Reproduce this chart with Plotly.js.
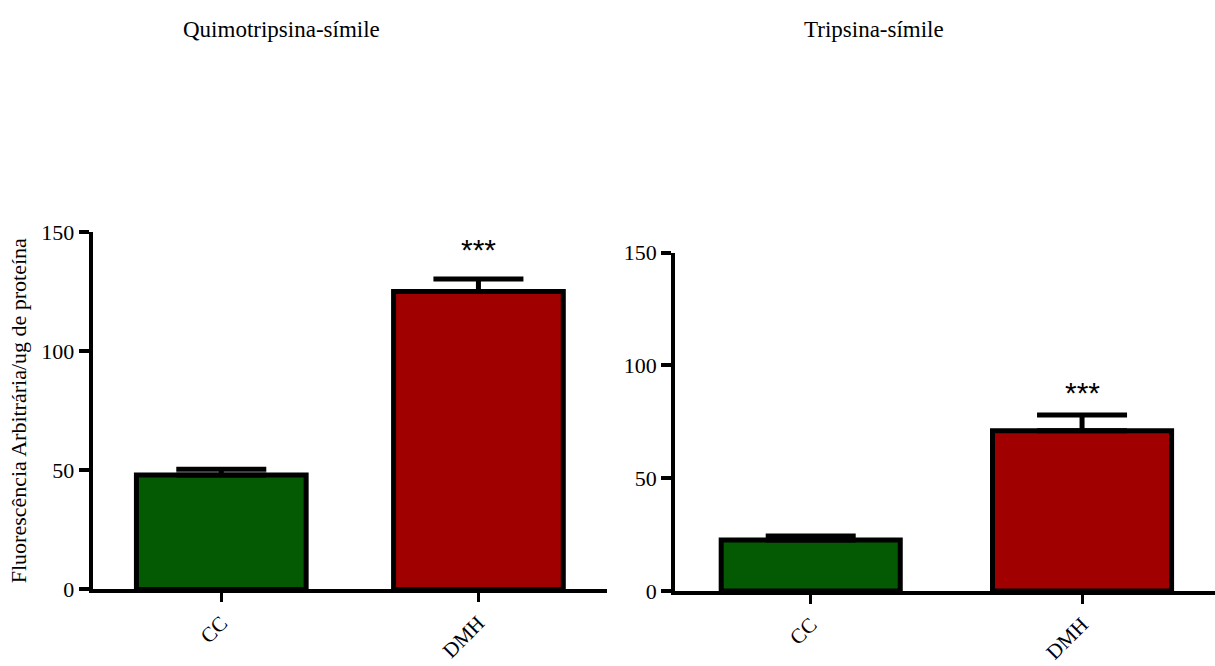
<!DOCTYPE html>
<html>
<head>
<meta charset="utf-8">
<script src="https://cdn.plot.ly/plotly-3.0.1.min.js"></script>
<style>html,body{margin:0;padding:0;background:#fff;}#chart{width:1215px;height:666px;}</style>
</head>
<body>
<div id="chart"></div>
<script>
// ---- data ----
const categories = ["CC", "DMH"];
const quimoMeans = [48, 125];
const quimoSem = [2.4, 5.3];
const tripMeans = [22.6, 71];
const tripSem = [1.8, 7];
const panelTitles = ["Quimotripsina-símile", "Tripsina-símile"];
const yTitle = "Fluorescência Arbitrária/ug de proteína";
const yTicks = [0, 50, 100, 150];
const sigLabel = "***";
const sigIndex = 1;

const barColors = ["#035a03", "#a00000"];
const serif = "Liberation Serif, Times New Roman, serif";

function barTrace(means, sem, xa, ya) {
  return {
    type: "bar",
    x: categories,
    y: means,
    xaxis: xa, yaxis: ya,
    width: 0.66,
    marker: { color: barColors, line: { color: "#000", width: 5 } },
    error_y: { type: "data", symmetric: false, array: sem, arrayminus: sem.map(() => 0),
               color: "#000", thickness: 5, width: 45 },
    hoverinfo: "none",
    showlegend: false
  };
}

const data = [
  barTrace(quimoMeans, quimoSem, "x", "y"),
  barTrace(tripMeans, tripSem, "x2", "y2")
];

function xAxis(domain, range, anchor) {
  return {
    domain: domain, range: range, anchor: anchor,
    showline: true, linewidth: 4, linecolor: "#000",
    ticks: "outside", ticklen: 9, tickwidth: 3, tickcolor: "#000",
    tickangle: -45, tickfont: { family: serif, size: 21, color: "#000" },
    showgrid: false, zeroline: false, fixedrange: true, automargin: false
  };
}
function yAxis(domain, anchor, withTitle) {
  const ax = {
    domain: domain, range: [0, 150], anchor: anchor,
    tickmode: "array", tickvals: yTicks, ticktext: yTicks.map(String),
    showline: true, linewidth: 4, linecolor: "#000",
    ticks: "outside", ticklen: 10, tickwidth: 4, tickcolor: "#000",
    tickfont: { family: serif, size: 22, color: "#000" },
    showgrid: false, zeroline: false, fixedrange: true, automargin: false
  };
  if (withTitle) {
    ax.title = { text: yTitle, font: { family: serif, size: 22, color: "#000" }, standoff: 10 };
  }
  return ax;
}

const annotations = [
  { text: panelTitles[0], xref: "paper", yref: "paper", x: 0.2313, y: 0.955, showarrow: false,
    xanchor: "center", yanchor: "middle", font: { family: serif, size: 23, color: "#000" } },
  { text: panelTitles[1], xref: "paper", yref: "paper", x: 0.7193, y: 0.955, showarrow: false,
    xanchor: "center", yanchor: "middle", font: { family: serif, size: 23, color: "#000" } },
  { text: sigLabel, xref: "x", yref: "y", x: categories[sigIndex], y: quimoMeans[sigIndex] + quimoSem[sigIndex],
    showarrow: false, yanchor: "bottom", yshift: 11, font: { family: "Liberation Sans, Arial, sans-serif", size: 30, color: "#000" } },
  { text: sigLabel, xref: "x2", yref: "y2", x: categories[sigIndex], y: tripMeans[sigIndex] + tripSem[sigIndex],
    showarrow: false, yanchor: "bottom", yshift: 4, font: { family: "Liberation Sans, Arial, sans-serif", size: 30, color: "#000" } }
];

const layout = {
  width: 1215, height: 666,
  margin: { l: 0, r: 0, t: 0, b: 0 },
  paper_bgcolor: "#fff", plot_bgcolor: "#fff",
  bargap: 0.3,
  xaxis: xAxis([0.0763, 0.4996], [-0.5, 1.5], "y"),
  yaxis: yAxis([0.1149, 0.6517], "x", true),
  xaxis2: xAxis([0.5556, 1.0], [-0.5, 1.49], "y2"),
  yaxis2: yAxis([0.1126, 0.6206], "x2", false),
  annotations: annotations,
  showlegend: false
};

Plotly.newPlot("chart", data, layout, { displayModeBar: false, staticPlot: true });
</script>
</body>
</html>
